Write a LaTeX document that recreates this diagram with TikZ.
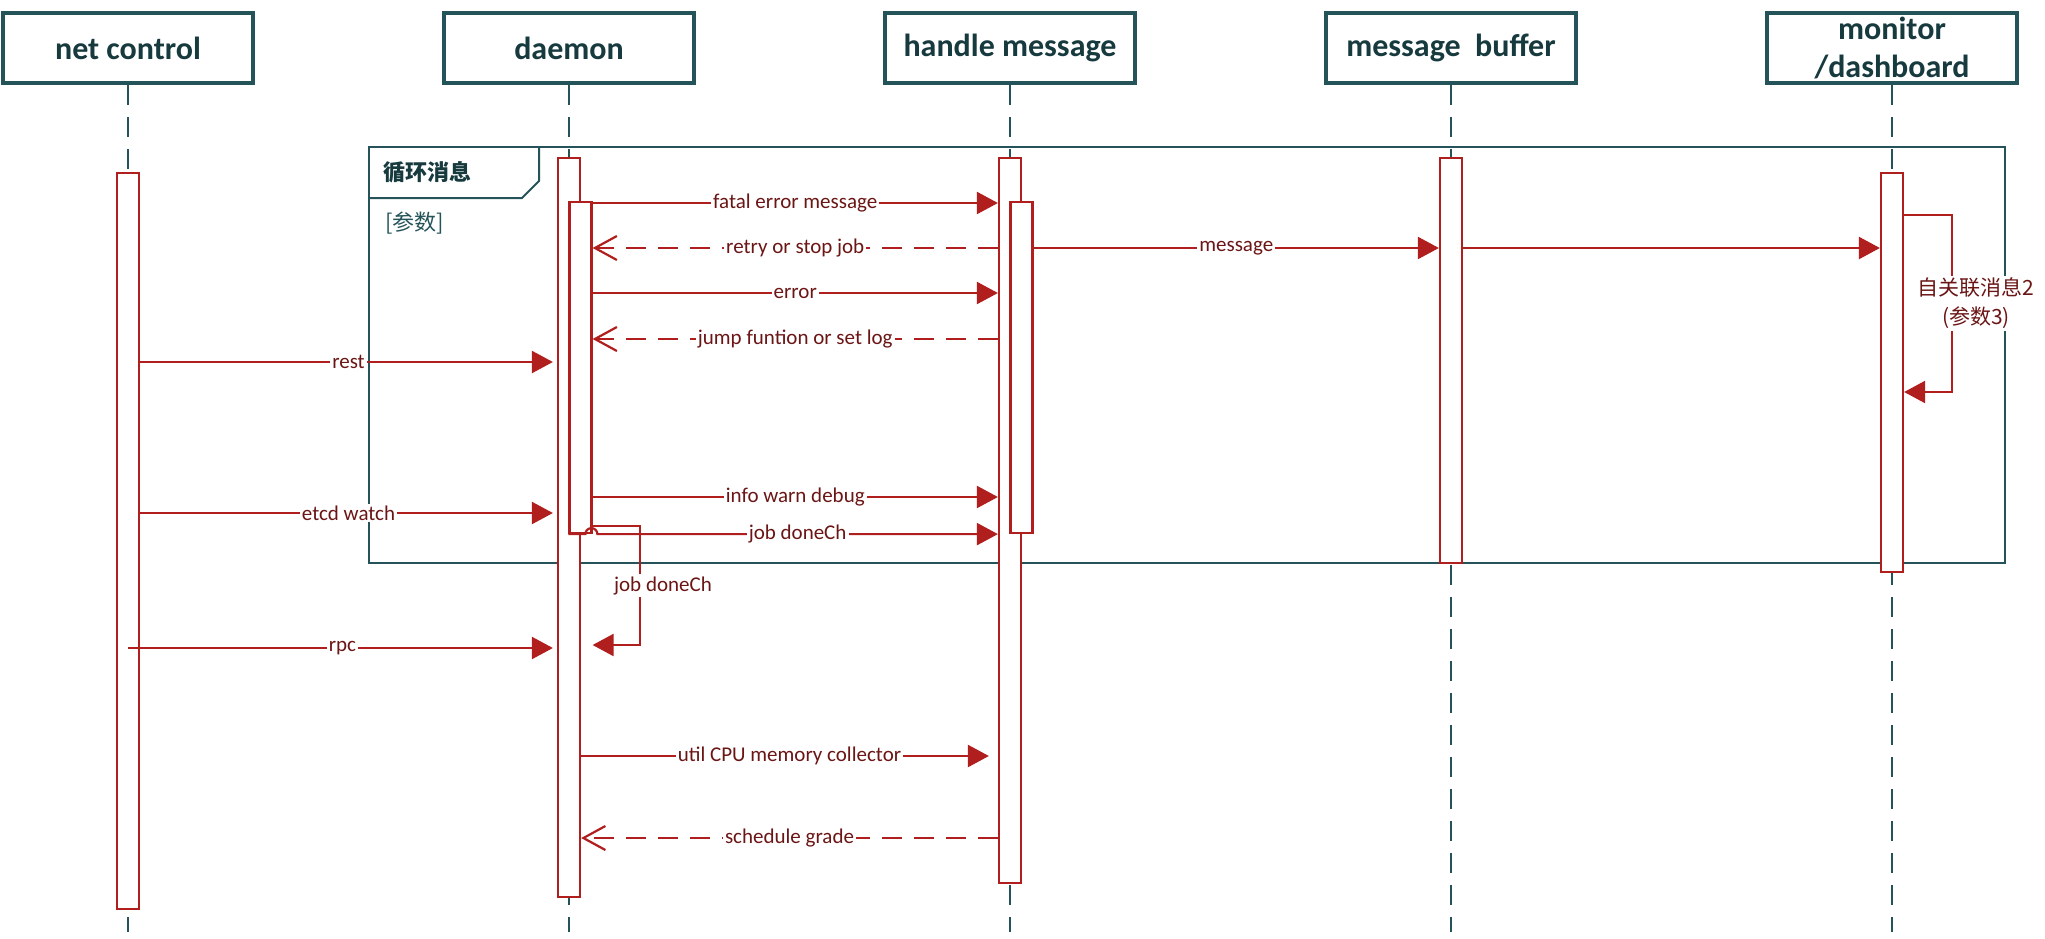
\documentclass[tikz,border=0pt]{standalone}
\usepackage{fontspec}
\setmainfont{Carlito}
\newfontfamily\cjk{Noto Sans CJK SC}
\usepackage{xcolor}
\usetikzlibrary{calc, arrows.meta, positioning}

\definecolor{lineteal}{HTML}{24545A}
\definecolor{headtext}{HTML}{173A3E}
\definecolor{msgred}{HTML}{B01E1E}
\definecolor{lbltext}{HTML}{6B1515}

\begin{document}
\begin{tikzpicture}[x=0.5pt, y=-0.5pt, font=\fontsize{10.5}{12}\selectfont]
	\tikzstyle{head} = [draw=lineteal, line width=2.2pt, fill=white, minimum width=125pt, minimum height=35pt, inner sep=0pt, font=\fontsize{16}{19}\selectfont\bfseries, text=headtext, align=center]
	\tikzstyle{life} = [draw=lineteal, line width=1.2pt, dash pattern=on 10pt off 6pt]
	\tikzstyle{bar} = [draw=msgred, line width=1.1pt, fill=white, minimum width=11pt, inner sep=0pt]
	\tikzstyle{arrow} = [draw=msgred, line width=1.1pt, -{Triangle[length=10.5pt, width=11pt]}]
	\tikzstyle{reply} = [draw=msgred, line width=1.1pt, dash pattern=on 10pt off 6pt, -{Straight Barb[length=11pt, width=12pt]}]
	\tikzstyle{lbl} = [fill=white, text=lbltext, inner sep=1pt]

	\useasboundingbox (0,0) rectangle (2045,938);

	% lifeline heads
	\node[head] at (128,48) (nc) {net control};
	\node[head] at (569,48) (dm) {daemon};
	\node[head] at (1010,48) (hm) {handle message};
	\node[head] at (1451,48) (mb) {message\ \ buffer};
	\node[head] at (1892,48) (mo) {monitor\\/dashboard};

	% loop frame
	\draw[lineteal, line width=1pt] (369,147) rectangle (2005,563);
	\draw[lineteal, line width=1pt] (369,198) -- (522,198) -- (539,181) -- (539,147);
	\node[anchor=west, text=headtext, font=\cjk\fontsize{11}{13}\selectfont\bfseries] at (376,172) (loop) {循环消息};
	\node[anchor=west, text=lineteal, font=\cjk\fontsize{11}{13}\selectfont] at (378,223) (guard) {[参数]};

	% lifelines
	\foreach \h in {nc, dm, hm, mb, mo}
		\draw[life] (\h.south) -- (\h.south |- 0,932);

	% activations
	\node[bar, minimum height=368pt] at (128,541) (ncA) {};
	\node[bar, minimum height=369.5pt] at (569,527.5) (dmA) {};
	\node[bar, minimum height=165.5pt] at (580.5,367.5) (dmB) {};
	\node[bar, minimum height=362.5pt] at (1010,520.5) (hmA) {};
	\node[bar, minimum height=165.5pt] at (1021.5,367.5) (hmB) {};
	\node[bar, minimum height=202.5pt] at (1451,360.5) (mbA) {};
	\node[bar, minimum height=199.5pt] at (1892,372.5) (moA) {};

	% messages
	\draw[arrow] (dmB.east |- 0,203) -- node[lbl] {fatal error message} (hmA.west |- 0,203);
	\draw[reply] (hmA.west |- 0,248) -- node[lbl] {retry or stop job} (dmB.east |- 0,248);
	\draw[arrow] (hmB.east |- 0,248) -- node[lbl] {message} (mbA.west |- 0,248);
	\draw[arrow] (mbA.east |- 0,248) -- (moA.west |- 0,248);
	\draw[arrow] (moA.east |- 0,215) -- (1952,215) -- node[lbl, xshift=12pt, align=center, font=\cjk\fontsize{10.5}{14.5}\selectfont] {自关联消息2\\(参数3)} (1952,392) -- (moA.east |- 0,392);
	\draw[arrow] (dmB.east |- 0,293) -- node[lbl] {error} (hmA.west |- 0,293);
	\draw[reply] (hmA.west |- 0,339) -- node[lbl] {jump funtion or set log} (dmB.east |- 0,339);
	\draw[arrow, shorten >=2pt] (ncA.east |- 0,362) -- node[lbl] {rest} (dmA.west |- 0,362);
	\draw[arrow] (dmB.east |- 0,497) -- node[lbl] {info warn debug} (hmA.west |- 0,497);
	\draw[arrow, shorten >=2pt] (ncA.east |- 0,513) -- node[lbl] {etcd watch} (dmA.west |- 0,513);
	\draw[arrow] (dmB.south west) -- ++(17,0) arc[start angle=180, end angle=360, radius=6] -- node[lbl] {job doneCh} (hmA.west |- dmB.south);
	\draw[arrow] (dmB.east |- 0,526) -- (640,526) -- node[lbl, xshift=11.5pt] {job doneCh} (640,645) -- (dmB.east |- 0,645);
	\draw[arrow, shorten >=2pt] (ncA.center |- 0,648) -- node[lbl] {rpc} (dmA.west |- 0,648);
	\draw[arrow, shorten >=4.5pt] (dmA.east |- 0,756) -- node[lbl] {util CPU memory collector} (hmA.west |- 0,756);
	\draw[reply] (hmA.west |- 0,838) -- node[lbl] {schedule grade} (dmA.east |- 0,838);
\end{tikzpicture}
\end{document}
